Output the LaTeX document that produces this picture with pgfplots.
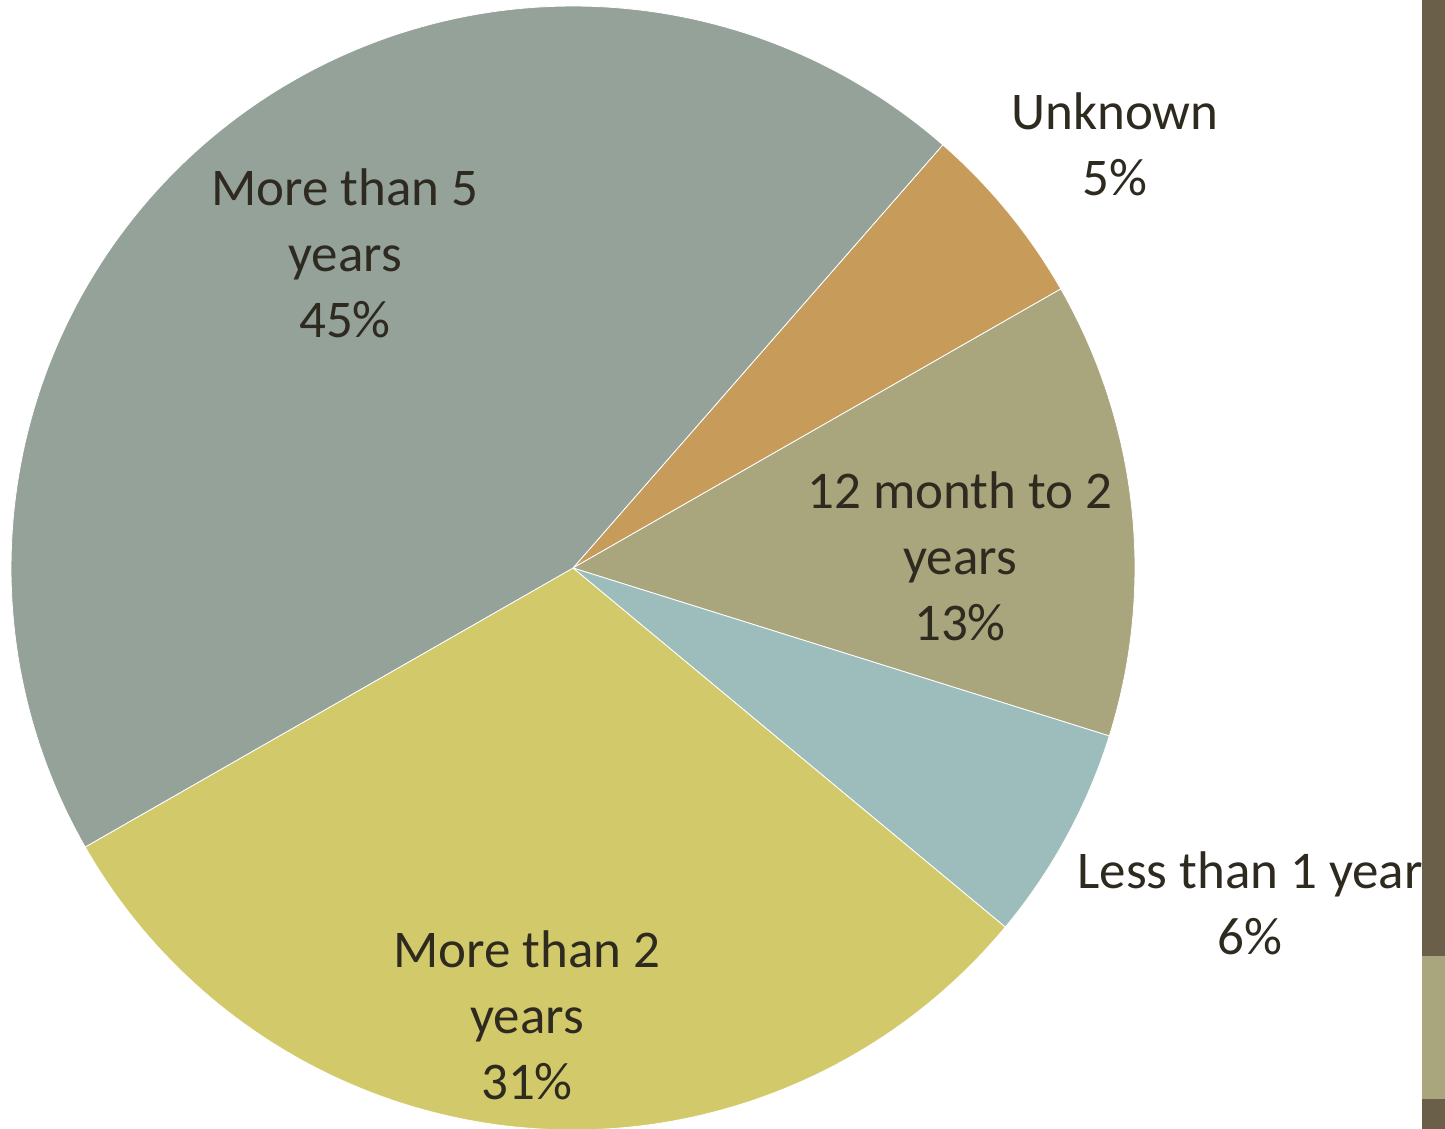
\documentclass[border=0pt]{standalone}
\usepackage{pgfplots}
\usepackage{pgfplotstable}
\pgfplotsset{compat=1.18}
\usepackage{fontspec}
\setmainfont{Carlito}
\definecolor{cFive}{HTML}{94A29A}
\definecolor{cUnk}{HTML}{C79C5A}
\definecolor{cTwelve}{HTML}{A9A57D}
\definecolor{cLess}{HTML}{9DBDBD}
\definecolor{cTwo}{HTML}{D2CA6A}
\definecolor{cBar}{HTML}{6A5F48}
\definecolor{cText}{HTML}{2E2A20}
\tikzset{lbl/.style={font=\fontsize{26.5bp}{33bp}\selectfont, text=cText, align=center, inner sep=0pt}}
% slices in clockwise order, starting at 48.85 degrees
\pgfplotstableread{
label value
Unknown 5.3
Twelve 13.1
Less 6.2
MoreTwo 30.7
MoreFive 44.7
}\piedata
\begin{document}
\begin{tikzpicture}
\pgfmathsetmacro{\sA}{48.85}
\pgfplotstablegetelem{0}{value}\of\piedata \pgfmathsetmacro{\sB}{\sA-3.6*\pgfplotsretval}
\pgfplotstablegetelem{1}{value}\of\piedata \pgfmathsetmacro{\sC}{\sB-3.6*\pgfplotsretval}
\pgfplotstablegetelem{2}{value}\of\piedata \pgfmathsetmacro{\sD}{\sC-3.6*\pgfplotsretval}
\pgfplotstablegetelem{3}{value}\of\piedata \pgfmathsetmacro{\sE}{\sD-3.6*\pgfplotsretval}
\pgfplotstablegetelem{4}{value}\of\piedata \pgfmathsetmacro{\sF}{\sE-3.6*\pgfplotsretval}
\begin{axis}[
  width=722.5bp, height=564.5bp, scale only axis,
  xmin=0, xmax=1445, ymin=0, ymax=1129,
  hide axis, clip=true,
]
\addplot[fill=white, draw=none] coordinates {(0,0) (1445,0) (1445,1129) (0,1129)} -- cycle;
\addplot[fill=cUnk, draw=white, line width=0.4bp, domain=\sB:\sA, samples=40, variable=\t] ({573+562*cos(\t)},{561+562*sin(\t)}) -- (axis cs:573,561) -- cycle;
\addplot[fill=cTwelve, draw=white, line width=0.4bp, domain=\sC:\sB, samples=60, variable=\t] ({573+562*cos(\t)},{561+562*sin(\t)}) -- (axis cs:573,561) -- cycle;
\addplot[fill=cLess, draw=white, line width=0.4bp, domain=\sD:\sC, samples=40, variable=\t] ({573+562*cos(\t)},{561+562*sin(\t)}) -- (axis cs:573,561) -- cycle;
\addplot[fill=cTwo, draw=white, line width=0.4bp, domain=\sE:\sD, samples=100, variable=\t] ({573+562*cos(\t)},{561+562*sin(\t)}) -- (axis cs:573,561) -- cycle;
\addplot[fill=cFive, draw=white, line width=0.4bp, domain=\sF:\sE, samples=140, variable=\t] ({573+562*cos(\t)},{561+562*sin(\t)}) -- (axis cs:573,561) -- cycle;
\node[lbl] at (axis cs:345,876) {More than 5\\years\\45\%};
\node[lbl] at (axis cs:1115,985) {Unknown\\5\%};
\node[lbl] at (axis cs:960,573) {12 month to 2\\years\\13\%};
\node[lbl] at (axis cs:1250,226) {Less than 1 year\\6\%};
\node[lbl] at (axis cs:527,114) {More than 2\\years\\31\%};
% right-hand decorative bar
\addplot[fill=cBar, draw=none] coordinates {(1422,173) (1445,173) (1445,1129) (1422,1129)} -- cycle;
\addplot[fill=cTwelve, draw=none] coordinates {(1422,30) (1445,30) (1445,173) (1422,173)} -- cycle;
\addplot[fill=cBar, draw=none] coordinates {(1422,0) (1445,0) (1445,30) (1422,30)} -- cycle;
\end{axis}
\end{tikzpicture}
\end{document}
